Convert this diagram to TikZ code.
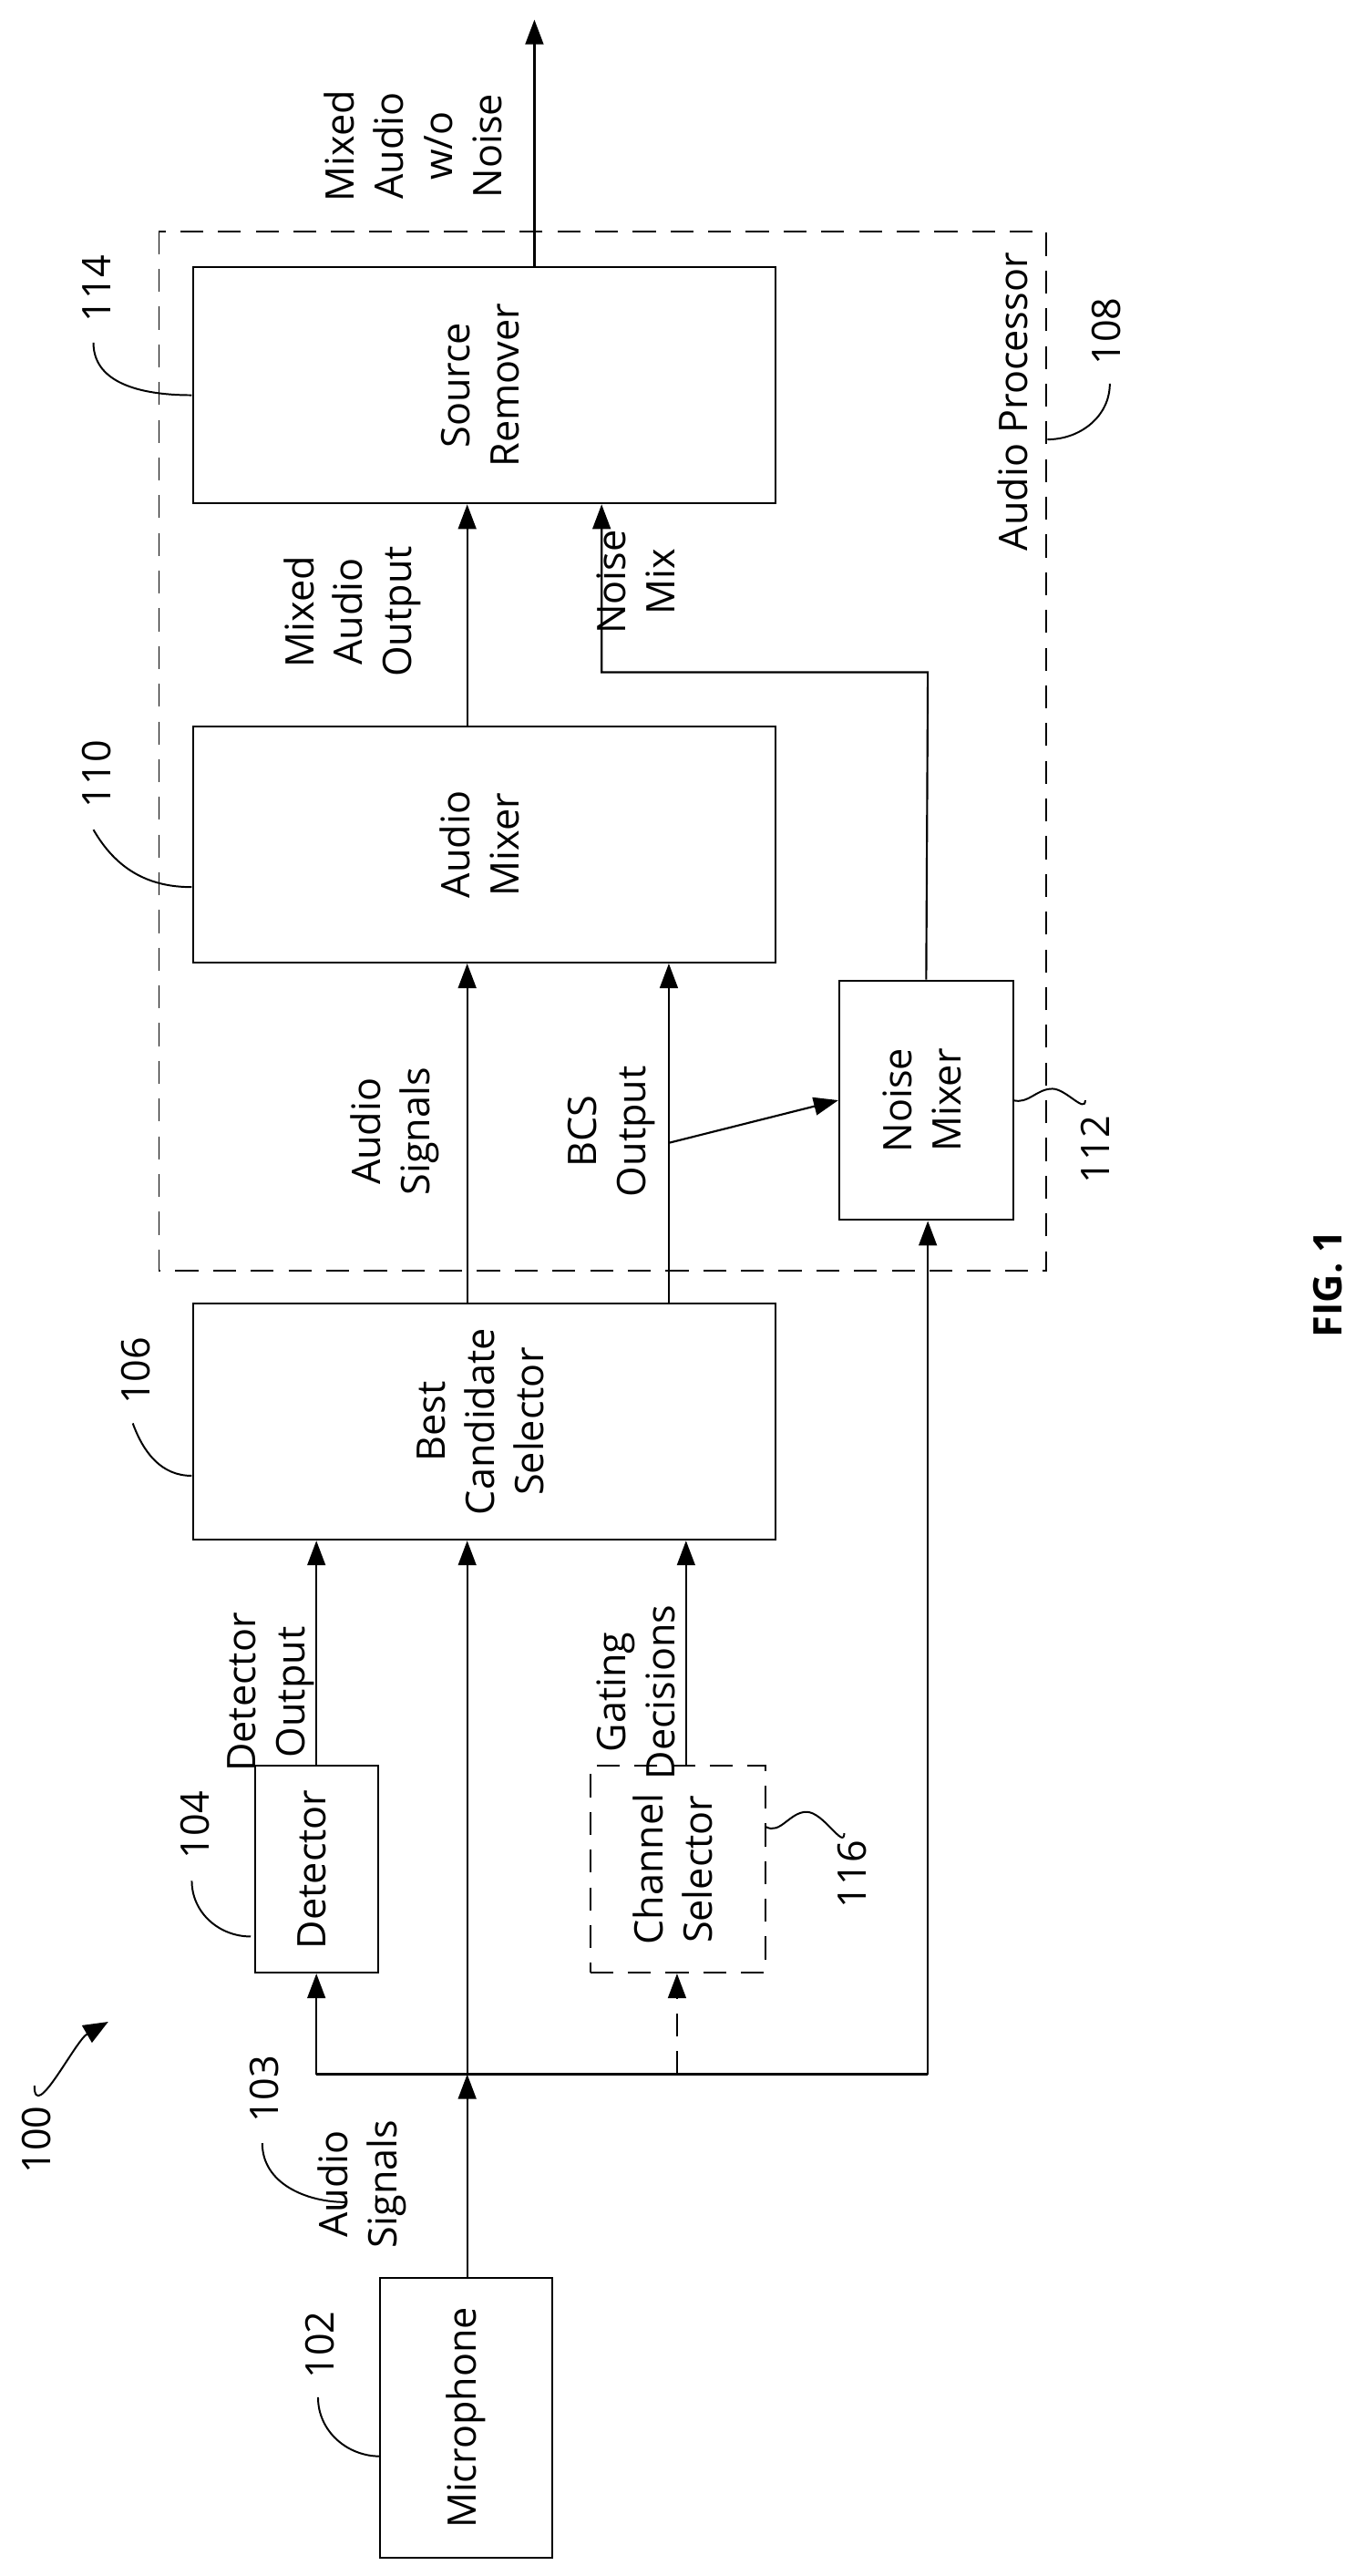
\documentclass[tikz,border=0pt]{standalone}
\usepackage{fontspec}
\setmainfont{Open Sans}
\usetikzlibrary{arrows.meta,calc}
\newcommand{\vtxt}[1]{\rotatebox{90}{\begin{tabular}{@{}c@{}}#1\end{tabular}}}
\tikzset{
  block/.style   = {draw, line width=1.2pt, inner sep=0pt, align=center},
  dblock/.style  = {block, dash pattern=on 14pt off 9pt},
  lbl/.style     = {rotate=90, align=center, inner sep=0pt},
  refnum/.style  = {rotate=90, inner sep=0pt},
  arr/.style     = {line width=1.2pt, -{Triangle[length=15pt,width=11pt]}},
  wire/.style    = {line width=1.2pt},
  leader/.style  = {line width=1.1pt}
}
\begin{document}
\begin{tikzpicture}
  [
    x = 1pt, y = -1pt,
    every node/.style = {font=\fontsize{24}{30}\selectfont}
  ]
  \useasboundingbox (0,0) rectangle (827,1571);
  % audio processor frame
  \draw [line width=1.1pt, dash pattern=on 14pt off 9pt] (97,141) rectangle (638,775);
  \node [lbl] (aptext) at (618,245) {Audio Processor};
  % blocks
  \node [block, minimum width=355pt, minimum height=144pt] (srcrem) at (295.5,235) {\vtxt{Source\\Remover}};
  \node [block, minimum width=355pt, minimum height=144pt] (mixer) at (295.5,515) {\vtxt{Audio\\Mixer}};
  \node [block, minimum width=106pt, minimum height=146pt] (noisemix) at (565,671) {\vtxt{Noise\\Mixer}};
  \node [block, minimum width=355pt, minimum height=144pt] (bcs) at (295.5,867) {\vtxt{Best\\Candidate\\Selector}};
  \node [block, minimum width=75pt, minimum height=126pt] (det) at (193,1140) {\vtxt{Detector}};
  \node [dblock, minimum width=107pt, minimum height=126pt] (chsel) at (413.5,1140) {\vtxt{Channel\\Selector}};
  \node [block, minimum width=105pt, minimum height=171pt] (mic) at (284.5,1474.5) {\vtxt{Microphone}};
  % bus points
  \coordinate (j1) at (285,1265);
  \coordinate (bl) at (193,1265);
  \coordinate (bm) at (413,1265);
  \coordinate (br) at (566,1265);
  \coordinate (nm) at (566,410);
  \coordinate (bo) at (408,697);
  \coordinate (outtip) at (326,12);
  % connectors
  \draw [arr] (mic.north -| j1) -- (j1);
  \draw [wire] (bl) -- (br);
  \draw [arr] (j1) -- (j1 |- bcs.south);
  \draw [arr] (bl) -- (det.south);
  \draw [arr, dash pattern=on 14pt off 9pt] (bm) -- (bm |- chsel.south);
  \draw [arr] (br) -- (br |- noisemix.south);
  \draw [arr] (det.north) -- (det.north |- bcs.south);
  \draw [arr] ([xshift=5pt]chsel.north) -- ([xshift=5pt]chsel.north |- bcs.south);
  \draw [arr] (bcs.north -| j1) -- (j1 |- mixer.south);
  \draw [arr] (bcs.north -| bo) -- (bo |- mixer.south);
  \draw [arr] (bo) -- (noisemix.west);
  \draw [arr] (mixer.north -| j1) -- (j1 |- srcrem.south);
  \draw [arr] (noisemix.north) -- (nm) -| (367,0 |- srcrem.south);
  \draw [arr] (srcrem.north -| outtip) -- (outtip);
  % signal labels
  \node [lbl] (l1) at (252,89) {Mixed\\Audio\\w/o\\Noise};
  \node [lbl] (l2) at (215,373) {Mixed\\Audio\\Output};
  \node [lbl] (l3) at (388,355) {Noise\\Mix};
  \node [lbl] (l4) at (241,690) {Audio\\Signals};
  \node [lbl] (l5) at (373,690) {BCS\\Output};
  \node [lbl] (l6) at (165,1032) {Detector\\Output};
  \node [lbl] (l7) at (388,1032) {Gating\\Decisions};
  \node [lbl] (l8) at (221,1332) {Audio\\Signals};
  % reference numerals
  \node [refnum] (n114) at (59,176) {114};
  \node [refnum] (n110) at (59,472) {110};
  \node [refnum] (n106) at (83,836) {106};
  \node [refnum] (n104) at (119,1113) {104};
  \node [refnum] (n103) at (161,1274) {103};
  \node [refnum] (n100) at (22,1305) {100};
  \node [refnum] (n102) at (195,1430) {102};
  \node [refnum] (n116) at (520,1143) {116};
  \node [refnum] (n108) at (675,202) {108};
  \node [refnum] (n112) at (668,701) {112};
  \node [font=\bfseries\fontsize{24}{30}\selectfont, rotate=90] (fig) at (810,783) {FIG. 1};
  % leaders
  \draw [leader] (57,209) to[out=-90, in=180] (117,241);
  \draw [leader] (57,506) to[out=-60, in=180] (117,541);
  \draw [leader] (81,868) to[out=-70, in=180] (117,900);
  \draw [leader] (117,1147) to[out=-90, in=180] (153,1181);
  \draw [leader] (160,1307) to[out=-90, in=180] (211,1343);
  \draw [leader] (194,1462) to[out=-90, in=180] (232,1498);
  \draw [leader] (467,1114) to[out=-30, in=180] (492,1105) to[out=0, in=-90] (515,1118);
  \draw [leader] (618,671) to[out=-15, in=180] (642,664) to[out=0, in=-90] (662,671);
  \draw [leader] (677,234) to[out=-90, in=0] (639,268);
  \draw [line width=1.1pt, -{Triangle[length=15pt,width=12pt]}] (21,1272) to[out=-90, in=-150] (66,1233);
\end{tikzpicture}
\end{document}
